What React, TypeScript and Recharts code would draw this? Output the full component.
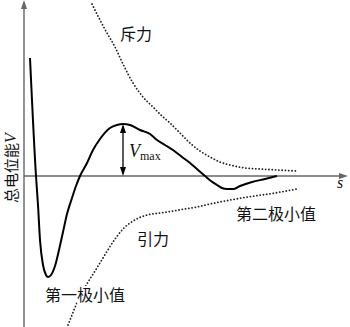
import { LineChart, Line, XAxis, YAxis, ReferenceLine, ReferenceDot } from "recharts";

// s: distance from the y axis, V: potential energy (arbitrary units)
const totalCurve = [
  { s: 6, v: 118 }, { s: 12, v: 0 }, { s: 14, v: -29 }, { s: 16, v: -64 }, { s: 19, v: -89 },
  { s: 22, v: -99 }, { s: 24, v: -101 }, { s: 27, v: -99 }, { s: 31, v: -90 }, { s: 35, v: -74 },
  { s: 39, v: -56 }, { s: 43, v: -38 }, { s: 48, v: -22 }, { s: 52, v: -10 }, { s: 56, v: 0 },
  { s: 63, v: 13 }, { s: 69, v: 26 }, { s: 76, v: 37 }, { s: 86, v: 48 }, { s: 93, v: 51 },
  { s: 99, v: 52 }, { s: 106, v: 51 }, { s: 116, v: 46 }, { s: 126, v: 42 }, { s: 133, v: 36 },
  { s: 141, v: 31 }, { s: 149, v: 26 }, { s: 158, v: 19 }, { s: 166, v: 13 }, { s: 174, v: 6 },
  { s: 181, v: 0 }, { s: 187, v: -5 }, { s: 193, v: -9 }, { s: 198, v: -12 }, { s: 203, v: -13 },
  { s: 209, v: -13 }, { s: 216, v: -10 }, { s: 228, v: -6 }, { s: 241, v: -3 }, { s: 253, v: 0 },
];

const repulsion = [
  { s: 68, v: 172 }, { s: 76, v: 156 }, { s: 83, v: 143 }, { s: 91, v: 129 }, { s: 99, v: 112 },
  { s: 109, v: 93 }, { s: 119, v: 79 }, { s: 129, v: 69 }, { s: 138, v: 60 }, { s: 146, v: 53 },
  { s: 156, v: 43 }, { s: 166, v: 33 }, { s: 176, v: 25 }, { s: 186, v: 19 }, { s: 196, v: 14 },
  { s: 206, v: 11 }, { s: 221, v: 8 }, { s: 236, v: 7 }, { s: 254, v: 6 }, { s: 273, v: 5 },
];

const attraction = [
  { s: 44, v: -149 }, { s: 48, v: -139 }, { s: 52, v: -129 }, { s: 56, v: -120 }, { s: 61, v: -111 },
  { s: 66, v: -103 }, { s: 71, v: -95 }, { s: 79, v: -82 }, { s: 89, v: -66 }, { s: 99, v: -53 },
  { s: 109, v: -45 }, { s: 123, v: -39 }, { s: 136, v: -37 }, { s: 149, v: -35 }, { s: 161, v: -33 },
  { s: 173, v: -31 }, { s: 186, v: -28 }, { s: 201, v: -25 }, { s: 224, v: -21 }, { s: 251, v: -17 },
  { s: 273, v: -13 },
];

const xDomain = [-24, 326];
const yDomain = [-151, 176];
const vMaxAt = 99;
const vMax = 52;

const CJK = "'Noto Sans CJK SC', sans-serif";
const SERIF = "'Liberation Serif', 'DejaVu Serif', serif";

const text = (content: string, size = 15) => (props: any) => (
  <text x={props.cx} y={props.cy} textAnchor="middle" fontSize={size} fontFamily={CJK} fill="#111"
    stroke="#fff" strokeWidth={4} paintOrder="stroke">
    {content}
  </text>
);

const arrow = (dir: "right" | "up" | "down", color: string) => (props: any) => {
  const { cx, cy } = props;
  let pts = "";
  if (dir === "right") pts = `${cx},${cy} ${cx - 9},${cy - 3} ${cx - 9},${cy + 3}`;
  if (dir === "up") pts = `${cx},${cy} ${cx - 3},${cy + 9} ${cx + 3},${cy + 9}`;
  if (dir === "down") pts = `${cx},${cy} ${cx - 3},${cy - 9} ${cx + 3},${cy - 9}`;
  return <polygon points={pts} fill={color} />;
};

const yLabel = (props: any) => (
  <text x={props.cx} y={props.cy} transform={`rotate(-90 ${props.cx} ${props.cy})`} textAnchor="middle"
    dominantBaseline="central" fontSize={15} fontFamily={CJK} fill="#111">
    总电位能<tspan fontFamily={SERIF} fontStyle="italic" fontSize={16}>V</tspan>
  </text>
);

const vMaxLabel = (props: any) => (
  <text x={props.cx} y={props.cy} fontFamily={SERIF} fill="#111">
    <tspan fontSize={18} fontStyle="italic">V</tspan>
    <tspan fontSize={12} dy={3}>max</tspan>
  </text>
);

const sLabel = (props: any) => (
  <text x={props.cx} y={props.cy} textAnchor="middle" fontFamily={SERIF} fontStyle="italic" fontSize={16} fill="#111">
    s
  </text>
);

export default function App() {
  const axisColor = "#666";
  return (
    <div style={{ width: 350, height: 327, background: "#fff" }}>
      <style>{`body{margin:0}`}</style>
      <LineChart width={350} height={327} margin={{ top: 0, right: 0, bottom: 0, left: 0 }}>
        <XAxis type="number" dataKey="s" domain={xDomain} allowDataOverflow hide />
        <YAxis type="number" dataKey="v" domain={yDomain} allowDataOverflow hide />

        <ReferenceLine segment={[{ x: 0, y: -151 }, { x: 0, y: 170 }]} stroke={axisColor} strokeWidth={1.4} />
        <ReferenceLine segment={[{ x: 0, y: 0 }, { x: 318, y: 0 }]} stroke={axisColor} strokeWidth={1.4} />
        <ReferenceDot x={0} y={176} r={0} shape={arrow("up", axisColor)} />
        <ReferenceDot x={324} y={0} r={0} shape={arrow("right", axisColor)} />

        <Line data={repulsion} dataKey="v" type="monotone" stroke="#222" strokeWidth={1.8}
          strokeDasharray="0.1 3.2" strokeLinecap="round" dot={false} activeDot={false} isAnimationActive={false} />
        <Line data={attraction} dataKey="v" type="monotone" stroke="#222" strokeWidth={1.8}
          strokeDasharray="0.1 3.2" strokeLinecap="round" dot={false} activeDot={false} isAnimationActive={false} />
        <Line data={totalCurve} dataKey="v" type="monotone" stroke="#000" strokeWidth={2}
          strokeLinejoin="round" dot={false} activeDot={false} isAnimationActive={false} />

        <ReferenceLine segment={[{ x: vMaxAt, y: 3 }, { x: vMaxAt, y: vMax - 3 }]} stroke="#000" strokeWidth={1.3} />
        <ReferenceDot x={vMaxAt} y={vMax} r={0} shape={arrow("up", "#000")} />
        <ReferenceDot x={vMaxAt} y={0} r={0} shape={arrow("down", "#000")} />

        <ReferenceDot x={105} y={19} r={0} shape={vMaxLabel} />
        <ReferenceDot x={112} y={136} r={0} shape={text("斥力", 16)} />
        <ReferenceDot x={129} y={-69} r={0} shape={text("引力", 16)} />
        <ReferenceDot x={61} y={-125} r={0} shape={text("第一极小值", 16)} />
        <ReferenceDot x={252} y={-44} r={0} shape={text("第二极小值", 16)} />
        <ReferenceDot x={316} y={-12} r={0} shape={sLabel} />
        <ReferenceDot x={-14} y={8} r={0} shape={yLabel} />
      </LineChart>
    </div>
  );
}
